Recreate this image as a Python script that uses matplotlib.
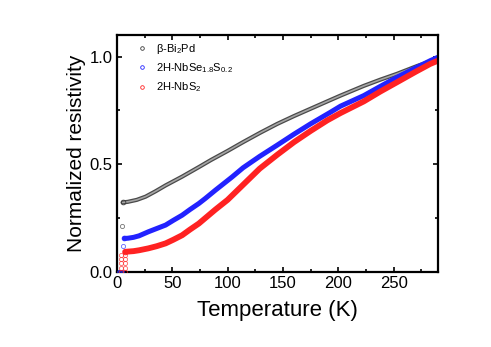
import numpy as np
import matplotlib
matplotlib.use("Agg")
from matplotlib import pyplot as plt
from matplotlib.ticker import MultipleLocator

# %% data (normalized resistivity vs temperature)
# normal state part, drawn as a dense band
T_bipd = [5.3, 10, 18, 26, 35, 44, 59, 74, 85, 100, 114, 130, 145, 160, 175, 190, 202, 223, 238, 253, 271, 290]
R_bipd = [0.323, 0.326, 0.335, 0.35, 0.375, 0.402, 0.443, 0.487, 0.52, 0.562, 0.603, 0.648, 0.688, 0.724, 0.758, 0.792, 0.819, 0.864, 0.893, 0.92, 0.956, 0.99]

T_nbses = [6.9, 10, 15, 20, 28.5, 36, 44, 51, 59, 66, 74, 80, 89, 104, 114, 129, 144.5, 160, 175, 193, 202, 223, 238, 253, 270, 283, 290]
R_nbses = [0.156, 0.157, 0.161, 0.168, 0.187, 0.202, 0.218, 0.24, 0.264, 0.29, 0.318, 0.342, 0.38, 0.441, 0.484, 0.537, 0.588, 0.64, 0.688, 0.742, 0.77, 0.819, 0.862, 0.904, 0.948, 0.981, 0.997]

T_nbs2 = [7.5, 10, 15, 20, 28.5, 36, 44, 51, 59, 66, 74, 89, 100, 115, 129, 145, 160, 175, 190, 202, 223, 238, 253, 270, 283, 290]
R_nbs2 = [0.094, 0.095, 0.097, 0.101, 0.11, 0.12, 0.133, 0.15, 0.171, 0.197, 0.225, 0.29, 0.335, 0.41, 0.48, 0.545, 0.603, 0.655, 0.704, 0.738, 0.792, 0.838, 0.881, 0.93, 0.966, 0.981]

# superconducting transition points (scattered circles)
T_bipd_sc = [2, 3, 4, 5.0]
R_bipd_sc = [0.0, 0.0, 0.0, 0.213]
T_nbses_sc = [1.5, 2.5, 3.5, 4.5, 5.7]
R_nbses_sc = [0.0, 0.0, 0.0, 0.0, 0.12]
T_nbs2_sc = [4.0, 4.0, 4.0, 4.0, 4.0, 7.2, 7.2, 7.2, 7.2, 7.2]
R_nbs2_sc = [0.0, 0.02, 0.04, 0.06, 0.08, 0.0, 0.02, 0.04, 0.06, 0.08]

labels = ["β-Bi$_2$Pd", "2H-NbSe$_{1.8}$S$_{0.2}$", "2H-NbS$_2$"]
band_colors = ["#4a4a4a", "#2222ff", "#ff2222"]
core_colors = ["#a5a5a5", None, None]
band_widths = [3.0, 3.6, 4.2]
edge_colors = ["#3a3a3a", "#2222ff", "#ff2222"]

# %% plotting
plt.rcParams['font.family'] = ['Liberation Sans', 'DejaVu Sans']
plt.rcParams['mathtext.fontset'] = 'custom'
plt.rcParams['mathtext.rm'] = 'Liberation Sans'
plt.rcParams['mathtext.it'] = 'Liberation Sans'

fig = plt.figure(figsize=(4.91, 3.47), dpi=100)
ax = fig.add_axes([0.238, 0.216, 0.654, 0.683])

series = [(T_bipd, R_bipd, T_bipd_sc, R_bipd_sc),
          (T_nbses, R_nbses, T_nbses_sc, R_nbses_sc),
          (T_nbs2, R_nbs2, T_nbs2_sc, R_nbs2_sc)]
for (T, R, Tsc, Rsc), lab, bc, cc, bw, ec in zip(series, labels, band_colors, core_colors, band_widths, edge_colors):
    ax.plot(T, R, color=bc, lw=bw, solid_capstyle='round', solid_joinstyle='round', zorder=2)  # dense measurement band
    if cc is not None:
        ax.plot(T, R, color=cc, lw=1.2, solid_capstyle='round', zorder=2)  # hollow look of packed circles
    ax.plot(T[:1], R[:1], ls='none', marker='o', ms=3.4, mfc='none', mec=ec, mew=0.6, zorder=3)
    ax.plot(Tsc, Rsc, ls='none', marker='o', ms=3, mfc='none', mec=ec, mew=0.6, alpha=0.7, zorder=3)
    ax.plot([], [], ls='none', marker='o', ms=2.6, mfc='none', mec=ec, mew=0.6, label=lab)

ax.set_xlim(0, 290)
ax.set_ylim(0, 1.1)
ax.xaxis.set_major_locator(MultipleLocator(50))
ax.xaxis.set_minor_locator(MultipleLocator(25))
ax.yaxis.set_major_locator(MultipleLocator(0.5))
ax.yaxis.set_minor_locator(MultipleLocator(0.25))
ax.tick_params(which='both', direction='in', top=True, right=True, labelsize=12, width=1.2)
ax.tick_params(which='major', length=3.5, pad=3)
ax.tick_params(which='minor', length=2)
for s in ax.spines.values():
    s.set_linewidth(1.6)

ax.set_xlabel("Temperature (K)", fontsize=16, labelpad=6)
ax.set_ylabel("Normalized resistivity", fontsize=15, labelpad=3)

leg = ax.legend(loc='upper left', bbox_to_anchor=(0.03, 1.01), frameon=False, fontsize=8,
                handlelength=1.2, handletextpad=0.7, labelspacing=0.5, borderaxespad=0.4)

fig.savefig("out.png", dpi=100)
